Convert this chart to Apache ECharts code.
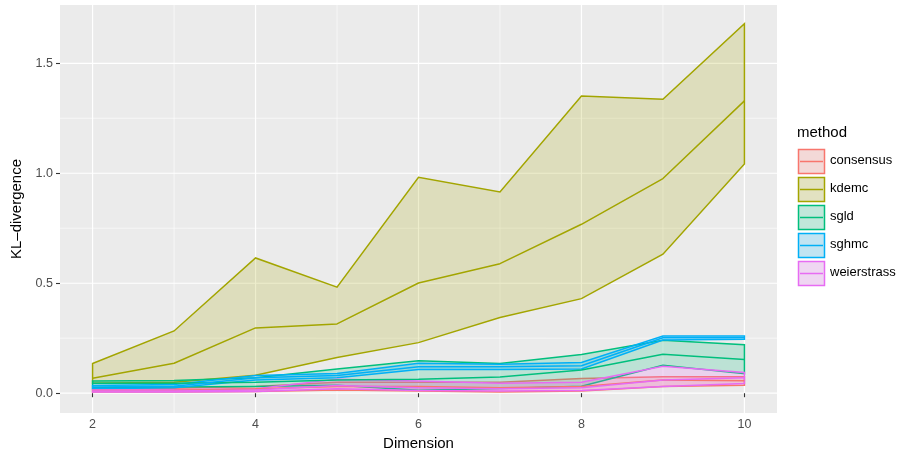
<!DOCTYPE html>
<html>
<head>
<meta charset="utf-8">
<script src="https://cdn.jsdelivr.net/npm/echarts@6/dist/echarts.min.js"></script>
<style>
  html, body { margin: 0; padding: 0; background: #fff; }
  #chart { width: 904px; height: 450px; }
</style>
</head>
<body>
<div id="chart"></div>
<script>
// x 轴：维度
const dims = [2, 3, 4, 5, 6, 7, 8, 9, 10]
const methods = ["consensus", "kdemc", "sgld", "sghmc", "weierstrass"]
const colors = ["#F8766D", "#A3A500", "#00BF7D", "#00B0F6", "#E76BF3"]

// 每个方法：下界 / 中线 / 上界
const consensusLow = [0.005, 0.006, 0.008, 0.015, 0.010, 0.005, 0.010, 0.030, 0.036]
const consensusMid = [0.012, 0.013, 0.020, 0.030, 0.030, 0.025, 0.030, 0.060, 0.057]
const consensusHigh = [0.020, 0.022, 0.030, 0.050, 0.050, 0.050, 0.067, 0.075, 0.075]

const kdemcLow = [0.045, 0.050, 0.082, 0.162, 0.230, 0.344, 0.430, 0.632, 1.042]
const kdemcMid = [0.068, 0.136, 0.297, 0.315, 0.501, 0.589, 0.768, 0.976, 1.329]
const kdemcHigh = [0.135, 0.283, 0.615, 0.482, 0.982, 0.915, 1.351, 1.336, 1.680]

const sgldLow = [0.025, 0.028, 0.030, 0.036, 0.014, 0.021, 0.032, 0.127, 0.089]
const sgldMid = [0.045, 0.045, 0.050, 0.060, 0.064, 0.074, 0.105, 0.177, 0.153]
const sgldHigh = [0.055, 0.058, 0.070, 0.110, 0.147, 0.135, 0.176, 0.241, 0.220]

const sghmcLow = [0.020, 0.025, 0.060, 0.070, 0.108, 0.108, 0.110, 0.242, 0.245]
const sghmcMid = [0.028, 0.032, 0.070, 0.080, 0.120, 0.120, 0.125, 0.252, 0.252]
const sghmcHigh = [0.035, 0.040, 0.080, 0.090, 0.136, 0.132, 0.140, 0.260, 0.260]

const weierLow = [0.005, 0.005, 0.008, 0.020, 0.012, 0.010, 0.012, 0.030, 0.044]
const weierMid = [0.010, 0.010, 0.015, 0.035, 0.025, 0.020, 0.025, 0.060, 0.070]
const weierHigh = [0.015, 0.016, 0.020, 0.064, 0.055, 0.045, 0.050, 0.122, 0.094]

const lows = [consensusLow, kdemcLow, sgldLow, sghmcLow, weierLow]
const mids = [consensusMid, kdemcMid, sgldMid, sghmcMid, weierMid]
const highs = [consensusHigh, kdemcHigh, sgldHigh, sghmcHigh, weierHigh]

// 刻度
const xTicks = [2, 4, 6, 8, 10]
const xMinor = [3, 5, 7, 9]
const yTicks = [0, 0.5, 1.0, 1.5]
const yMinor = [0.25, 0.75, 1.25]

const FONT = "Liberation Sans"
const LW = 1.5

function hexAlpha(hex, a) {
  const r = parseInt(hex.slice(1, 3), 16)
  const g = parseInt(hex.slice(3, 5), 16)
  const b = parseInt(hex.slice(5, 7), 16)
  return "rgba(" + r + "," + g + "," + b + "," + a + ")"
}

const chart = echarts.init(document.getElementById("chart"), null, { renderer: "canvas" })

// 背景网格线
const gridSeries = {
  type: "custom",
  silent: true,
  z: 0,
  data: [[dims[0], 0]],
  renderItem: function (params, api) {
    const cs = params.coordSys
    const children = []
    const vline = (v, w) => {
      const p = api.coord([v, 0])
      children.push({ type: "line", shape: { x1: p[0], y1: cs.y, x2: p[0], y2: cs.y + cs.height }, style: { stroke: "#fff", lineWidth: w } })
    }
    const hline = (v, w) => {
      const p = api.coord([dims[0], v])
      children.push({ type: "line", shape: { x1: cs.x, y1: p[1], x2: cs.x + cs.width, y2: p[1] }, style: { stroke: "#fff", lineWidth: w } })
    }
    xMinor.forEach(v => vline(v, 0.6))
    yMinor.forEach(v => hline(v, 0.6))
    xTicks.forEach(v => vline(v, 1.2))
    yTicks.forEach(v => hline(v, 1.2))
    return { type: "group", children: children }
  }
}

// 每个方法的带状区域
const ribbonSeries = methods.map((m, k) => ({
  type: "custom",
  name: m,
  silent: true,
  z: 2,
  data: dims.map((d, i) => [d, lows[k][i], highs[k][i]]),
  renderItem: function (params, api) {
    if (params.dataIndex !== 0) return null
    const pts = []
    dims.forEach((d, i) => pts.push(api.coord([d, highs[k][i]])))
    for (let i = dims.length - 1; i >= 0; i--) pts.push(api.coord([dims[i], lows[k][i]]))
    return {
      type: "polygon",
      shape: { points: pts },
      style: { fill: hexAlpha(colors[k], 0.2), stroke: colors[k], lineWidth: LW }
    }
  }
}))

// 中线
const lineSeries = methods.map((m, k) => ({
  type: "line",
  name: m + " mid",
  silent: true,
  z: 3,
  symbol: "none",
  lineStyle: { color: colors[k], width: LW },
  data: dims.map((d, i) => [d, mids[k][i]])
}))

// 图例（ggplot 风格）
const legendEls = [
  { type: "text", left: 797, top: 125, style: { text: "method", font: "15px " + FONT, fill: "#000" } }
]
methods.forEach((m, k) => {
  const y0 = 149 + k * 28
  legendEls.push({ type: "rect", shape: { x: 798.5, y: y0 + 0.5, width: 26, height: 24 }, style: { fill: "#F2F2F2" } })
  legendEls.push({ type: "rect", shape: { x: 798.5, y: y0 + 0.5, width: 26, height: 24 }, style: { fill: hexAlpha(colors[k], 0.2), stroke: colors[k], lineWidth: LW } })
  legendEls.push({ type: "line", shape: { x1: 800, y1: y0 + 12.5, x2: 823, y2: y0 + 12.5 }, style: { stroke: colors[k], lineWidth: LW } })
  legendEls.push({ type: "text", left: 830, top: y0 + 5, style: { text: m, font: "13px " + FONT, fill: "#000" } })
})

const option = {
  animation: false,
  backgroundColor: "#fff",
  grid: {
    left: 60, right: 127, top: 5, bottom: 37,
    outerBoundsMode: "none",
    containLabel: false,
    show: true, backgroundColor: "#EBEBEB", borderWidth: 0
  },
  xAxis: {
    type: "value",
    min: 1.6, max: 10.4,
    name: "Dimension",
    nameLocation: "middle",
    nameGap: 22,
    nameTextStyle: { fontFamily: FONT, fontSize: 15, color: "#000" },
    axisLine: { show: false },
    splitLine: { show: false },
    axisTick: { show: true, length: 4, lineStyle: { color: "#333", width: 1.1 }, customValues: xTicks },
    axisLabel: { fontFamily: FONT, fontSize: 12.5, color: "#4D4D4D", margin: 5, customValues: xTicks }
  },
  yAxis: {
    type: "value",
    min: -0.09, max: 1.765,
    name: "KL–divergence",
    nameLocation: "middle",
    nameGap: 34,
    nameRotate: 90,
    nameTextStyle: { fontFamily: FONT, fontSize: 15, color: "#000" },
    axisLine: { show: false },
    splitLine: { show: false },
    axisTick: { show: true, length: 4, lineStyle: { color: "#333", width: 1.1 }, customValues: yTicks },
    axisLabel: {
      fontFamily: FONT, fontSize: 12.5, color: "#4D4D4D", margin: 7, customValues: yTicks,
      formatter: v => v.toFixed(1)
    }
  },
  series: [gridSeries].concat(ribbonSeries, lineSeries),
  graphic: legendEls
}

chart.setOption(option)
</script>
</body>
</html>
